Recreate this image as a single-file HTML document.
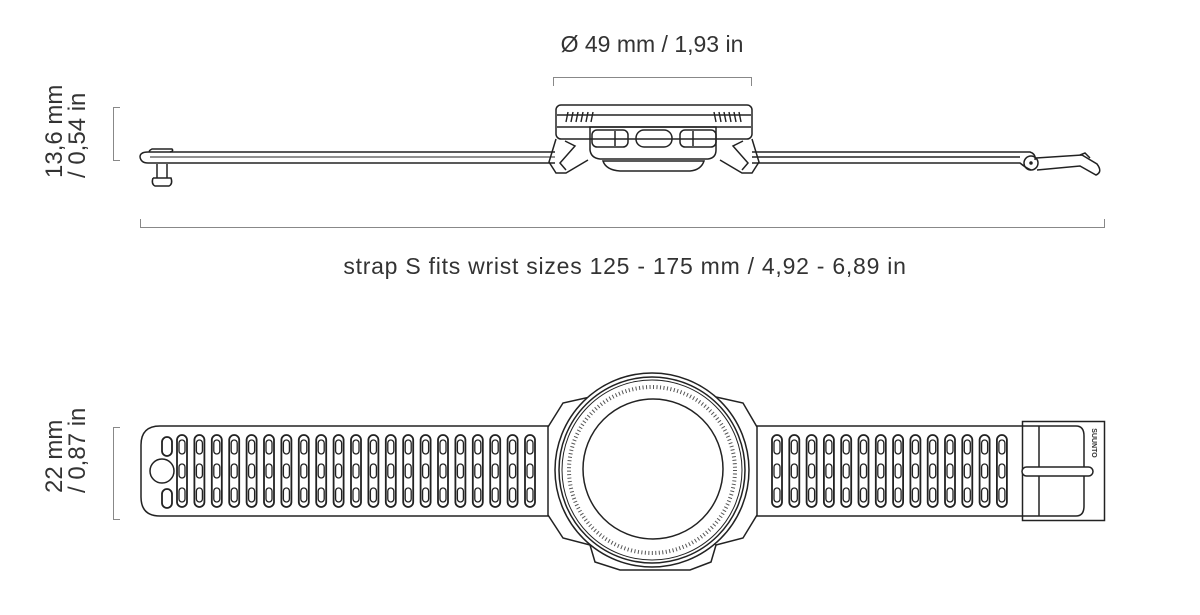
<!DOCTYPE html>
<html><head><meta charset="utf-8"><style>
html,body{margin:0;padding:0;background:#fff;width:1200px;height:615px;overflow:hidden}
text{font-family:"Liberation Sans",sans-serif;fill:#333}
</style></head><body>
<svg width="1200" height="615" viewBox="0 0 1200 615" xmlns="http://www.w3.org/2000/svg">
<defs>
<g id="slot"><rect x="-5" y="-36" width="10" height="72" rx="5" fill="none" stroke="#222" stroke-width="1.8"/>
<rect x="-3" y="-31" width="6" height="14" rx="3" fill="none" stroke="#222" stroke-width="1.3"/>
<rect x="-3" y="-7" width="6" height="14" rx="3" fill="none" stroke="#222" stroke-width="1.3"/>
<rect x="-3" y="17" width="6" height="14" rx="3" fill="none" stroke="#222" stroke-width="1.3"/></g>
</defs>
<text x="652" y="52" font-size="23" text-anchor="middle">Ø 49 mm / 1,93 in</text>
<path d="M553.5 86V77.5H751.5V86" fill="none" stroke="#888" stroke-width="1"/>
<text transform="translate(62,178) rotate(-90)" font-size="24">13,6 mm</text>
<text transform="translate(85,178) rotate(-90)" font-size="24">/ 0,54 in</text>
<path d="M120 107.5H113.5V160.5H120" fill="none" stroke="#888" stroke-width="1"/>
<path d="M140.5 219V227.5H1104.5V219" fill="none" stroke="#888" stroke-width="1"/>
<text x="625" y="274" font-size="23" letter-spacing="0.75" text-anchor="middle">strap S fits wrist sizes 125 - 175 mm / 4,92 - 6,89 in</text>
<text transform="translate(62,493) rotate(-90)" font-size="24">22 mm</text>
<text transform="translate(85,493) rotate(-90)" font-size="24">/ 0,87 in</text>
<path d="M120 427.5H113.5V519.5H120" fill="none" stroke="#888" stroke-width="1"/>

<g fill="none" stroke="#222" stroke-width="1.5">
<path d="M148 152H555M148 163H555M140 157Q140 152 148 152M140 157Q141 163 148 163"/>
<path d="M150 152Q148 151 152 149H172Q174 151 170 152"/>
<path d="M157 164V178M167 164V178M153 178H171Q173 184 169 186H155Q151 184 153 178"/>
<path d="M150 157H555" stroke-width="1"/>
<path d="M752 152H1030Q1036 154 1035 160M752 157H1020M752 163H1020Q1026 168 1031 170"/>
<circle cx="1031" cy="163" r="7"/><circle cx="1031" cy="163" r="1" fill="#222"/>
<path d="M1036 158L1082 155L1097 164Q1103 172 1096 175L1080 166L1037 170"/>
<path d="M1080 155L1085 153L1090 158"/>
<rect x="556" y="105" width="196" height="34" rx="5"/>
<path d="M557 115H751M557 127H751"/>
<g stroke-width="1.4"><path d="M568 112l-2 10M573 112l-2 10M578 112l-2 10M583 112l-2 10M588 112l-2 10M593 112l-2 10"/>
<path d="M714 112l2 10M719 112l2 10M724 112l2 10M729 112l2 10M734 112l2 10M739 112l2 10"/></g>
<path d="M590 127H716V150Q716 158 708 159H600Q591 158 590 150Z"/>
<rect x="592" y="130" width="36" height="17" rx="5"/><rect x="636" y="130" width="36" height="17" rx="8"/><rect x="680" y="130" width="36" height="17" rx="5"/>
<path d="M615 131V146M693 131V146"/>
<path d="M603 161Q606 170 620 171H690Q701 170 704 161Z"/>
<path d="M556 139L549 162L556 173H566L588 160M752 139L759 162L752 173H742L720 160"/>
<path d="M565 141L575 146L560 163L566 170M743 141L733 146L748 163L742 170"/>
</g>

<g fill="none" stroke="#222" stroke-width="1.5">
<path d="M563 426H160Q141 426 141 445V497Q141 516 160 516H563"/>
<circle cx="162" cy="471" r="12"/>
<rect x="162" y="437" width="10" height="19" rx="5" stroke-width="1.8"/><rect x="162" y="489" width="10" height="19" rx="5" stroke-width="1.8"/>
<path d="M744 426H1040M744 516H1040"/>
<rect x="1022.5" y="421.5" width="82" height="99"/>
<path d="M1039 426V516M1040 426H1076Q1084 426 1084 436V506Q1084 516 1076 516H1040"/>
<rect x="1022" y="467" width="71" height="9" rx="4.5" fill="#fff"/>
</g>
<text transform="translate(1092,443) rotate(90)" font-size="7" font-weight="bold" text-anchor="middle">SUUNTO</text>
<g>
<use href="#slot" x="182" y="471"/><use href="#slot" x="199.4" y="471"/><use href="#slot" x="216.8" y="471"/><use href="#slot" x="234.2" y="471"/><use href="#slot" x="251.6" y="471"/><use href="#slot" x="269" y="471"/><use href="#slot" x="286.4" y="471"/><use href="#slot" x="303.8" y="471"/><use href="#slot" x="321.2" y="471"/><use href="#slot" x="338.6" y="471"/><use href="#slot" x="356" y="471"/><use href="#slot" x="373.4" y="471"/><use href="#slot" x="390.8" y="471"/><use href="#slot" x="408.2" y="471"/><use href="#slot" x="425.6" y="471"/><use href="#slot" x="443" y="471"/><use href="#slot" x="460.4" y="471"/><use href="#slot" x="477.8" y="471"/><use href="#slot" x="495.2" y="471"/><use href="#slot" x="512.6" y="471"/><use href="#slot" x="530" y="471"/>
<use href="#slot" x="777" y="471"/><use href="#slot" x="794.3" y="471"/><use href="#slot" x="811.6" y="471"/><use href="#slot" x="828.9" y="471"/><use href="#slot" x="846.2" y="471"/><use href="#slot" x="863.5" y="471"/><use href="#slot" x="880.8" y="471"/><use href="#slot" x="898.1" y="471"/><use href="#slot" x="915.4" y="471"/><use href="#slot" x="932.7" y="471"/><use href="#slot" x="950" y="471"/><use href="#slot" x="967.3" y="471"/><use href="#slot" x="984.6" y="471"/><use href="#slot" x="1001.9" y="471"/>
</g>

<g fill="#fff" stroke="#222" stroke-width="1.5">
<path d="M548 427L563 403L590 397L716 397L743 403L757 427V515L743 538L716 545H590L563 538L548 515Z"/>
<path d="M590 545L595 562L620 570H690L711 562L716 545" />
<circle cx="652" cy="470" r="97"/>
<circle cx="652" cy="470" r="93" fill="none"/>
<circle cx="652" cy="470" r="90" fill="none" stroke-width="1"/>
<circle cx="652" cy="470" r="83" fill="none" stroke="#555" stroke-width="4" stroke-dasharray="1 2.5"/>
<circle cx="653" cy="469" r="70"/>
</g>
</svg>
</body></html>
